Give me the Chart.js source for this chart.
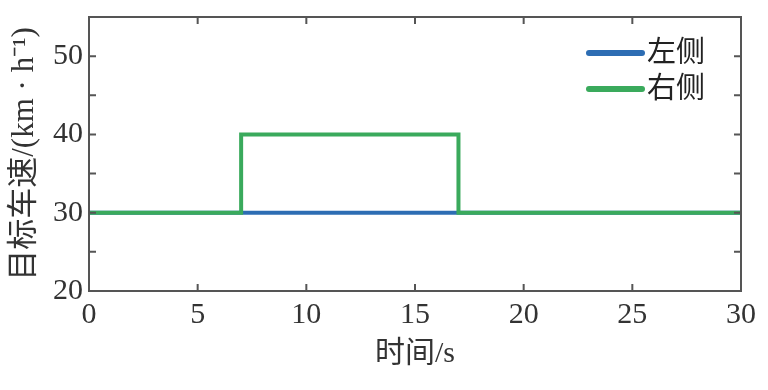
<!DOCTYPE html>
<html>
<head>
<meta charset="utf-8">
<script src="https://cdn.jsdelivr.net/npm/chart.js@4/dist/chart.umd.min.js"></script>
<style>
  html, body { margin: 0; padding: 0; background: #fff; }
  #wrap { width: 768px; height: 390px; }
</style>
</head>
<body>
<div id="wrap"><canvas id="c" width="768" height="390"></canvas></div>
<script>
const TIME = [0, 7, 17, 30];
const LEFT = [30, 30, 30, 30];
const RIGHT = [30, 40, 30, 30];
const LABELS = ["左侧", "右侧"];
const X_TITLE = "时间/s";
const Y_TITLE = "目标车速/(km · h⁻¹)";

const FONT = "'Liberation Serif', 'Noto Sans CJK SC', serif";
const AXIS_COLOR = "#555555";

function toPoints(xs, ys) {
  return xs.map((x, i) => ({ x, y: ys[i] }));
}

// box + inward ticks (matlab look)
const boxPlugin = {
  id: "box",
  afterDraw(chart) {
    const { ctx, chartArea: a, scales } = chart;
    ctx.save();
    ctx.strokeStyle = AXIS_COLOR;
    ctx.lineWidth = 2;
    ctx.strokeRect(a.left, a.top, a.right - a.left, a.bottom - a.top);
    const tl = 7;
    ctx.beginPath();
    for (let v = 5; v < 30; v += 5) {
      const px = scales.x.getPixelForValue(v);
      ctx.moveTo(px, a.bottom); ctx.lineTo(px, a.bottom - tl);
      ctx.moveTo(px, a.top); ctx.lineTo(px, a.top + tl);
    }
    for (let v = 25; v < 55; v += 5) {
      const py = scales.y.getPixelForValue(v);
      ctx.moveTo(a.left, py); ctx.lineTo(a.left + tl, py);
      ctx.moveTo(a.right, py); ctx.lineTo(a.right - tl, py);
    }
    ctx.stroke();

    // legend
    ctx.font = "29px " + FONT;
    ctx.textBaseline = "middle";
    ctx.fillStyle = "#222";
    ctx.lineCap = "round";
    ctx.lineWidth = 6;
    chart.data.datasets.forEach((ds, i) => {
      const y = 53 + i * 36;
      ctx.strokeStyle = ds.borderColor;
      ctx.beginPath();
      ctx.moveTo(589, y); ctx.lineTo(642, y);
      ctx.stroke();
      ctx.fillText(ds.label, 647, y + 1);
    });
    ctx.restore();
  }
};

new Chart(document.getElementById("c"), {
  type: "line",
  data: {
    datasets: [
      {
        label: LABELS[0],
        data: toPoints(TIME, LEFT),
        borderColor: "#2d6db3",
        borderWidth: 4,
        pointRadius: 0,
        stepped: "before",
        order: 1
      },
      {
        label: LABELS[1],
        data: toPoints(TIME, RIGHT),
        borderColor: "#3aaa5c",
        borderWidth: 4,
        pointRadius: 0,
        stepped: "before",
        order: 0
      }
    ]
  },
  options: {
    responsive: false,
    animation: false,
    devicePixelRatio: 1,
    layout: { padding: { left: 0, right: 27, top: 17, bottom: 18 } },
    plugins: {
      legend: { display: false },
      tooltip: { enabled: false }
    },
    scales: {
      x: {
        type: "linear",
        min: 0,
        max: 30,
        ticks: {
          stepSize: 5,
          color: "#333",
          padding: 6,
          font: { size: 30, family: FONT }
        },
        grid: { display: false, drawTicks: false },
        border: { display: false },
        title: {
          display: true,
          text: X_TITLE,
          color: "#333",
          padding: { top: 0, bottom: 0 },
          font: { size: 30, family: FONT }
        },
        afterFit(scale) {
          scale.height = 81;
          scale.paddingLeft = 0;
          scale.paddingRight = 0;
        }
      },
      y: {
        min: 20,
        max: 55,
        ticks: {
          stepSize: 5,
          color: "#333",
          padding: 6,
          font: { size: 30, family: FONT },
          callback: (v) => (v % 10 === 0 && v < 55 ? v : "")
        },
        grid: { display: false, drawTicks: false },
        border: { display: false },
        title: {
          display: true,
          text: Y_TITLE,
          color: "#333",
          padding: { top: 6, bottom: 0 },
          font: { size: 31, family: FONT }
        },
        afterFit(scale) {
          scale.width = 89;
          scale.paddingTop = 0;
          scale.paddingBottom = 0;
        }
      }
    }
  },
  plugins: [boxPlugin]
});
</script>
</body>
</html>
